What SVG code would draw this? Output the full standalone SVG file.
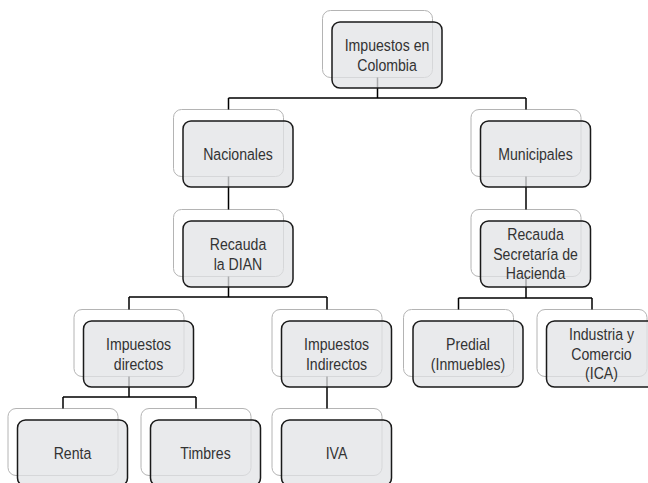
<svg xmlns="http://www.w3.org/2000/svg" width="648" height="483" viewBox="0 0 648 483">
<style>
.bk{fill:#ffffff;stroke:#b4b4b4;stroke-width:1}
.fr{fill:#e2e3e5;fill-opacity:0.75;stroke:#1a1a1a;stroke-width:1.5}
.t{font-family:"Liberation Sans",Arial,sans-serif;font-size:17px;fill:#333333;text-anchor:middle}
.c{fill:none;stroke:#000000;stroke-width:1.5}
</style>
<defs>
<rect id="b" class="bk" width="110" height="67" rx="8"/>
</defs>
<rect width="648" height="483" fill="#ffffff"/>
<g id="backs">
<use href="#b" x="322.5" y="10.5"/>
<use href="#b" x="173.5" y="109.5"/>
<use href="#b" x="471" y="109.5"/>
<use href="#b" x="173.5" y="209.5"/>
<use href="#b" x="471" y="209.5"/>
<use href="#b" x="74" y="309.5"/>
<use href="#b" x="272" y="309.5"/>
<use href="#b" x="403.5" y="309.5"/>
<use href="#b" x="537" y="309.5"/>
<use href="#b" x="8" y="408.5"/>
<use href="#b" x="141" y="408.5"/>
<use href="#b" x="272" y="408.5"/>
</g>
<g id="connectors">
<path class="c" d="M377.5 77.5V98M228.5 98H526M228.5 98V109.5M526 98V109.5"/>
<path class="c" d="M228.5 176.5V209.5"/>
<path class="c" d="M526 176.5V209.5"/>
<path class="c" d="M228.5 276.5V297M129 297H327M129 297V309.5M327 297V309.5"/>
<path class="c" d="M526 276.5V298M458.5 298H592M458.5 298V309.5M592 298V309.5"/>
<path class="c" d="M129 376.5V397M63 397H196M63 397V408.5M196 397V408.5"/>
<path class="c" d="M327 376.5V408.5"/>
</g>
<g id="n-colombia">
<rect class="fr" x="332" y="22" width="110" height="66" rx="8"/>
<g transform="matrix(0.83 0 0 1 387 0)"><text class="t" x="0" y="51.25">Impuestos en</text><text class="t" x="0" y="70.75">Colombia</text></g>
</g>
<g id="n-nacionales">
<rect class="fr" x="183" y="121" width="110" height="66" rx="8"/>
<g transform="matrix(0.83 0 0 1 238 0)"><text class="t" x="0" y="160">Nacionales</text></g>
</g>
<g id="n-municipales">
<rect class="fr" x="480.5" y="121" width="110" height="66" rx="8"/>
<g transform="matrix(0.83 0 0 1 535.5 0)"><text class="t" x="0" y="160">Municipales</text></g>
</g>
<g id="n-dian">
<rect class="fr" x="183" y="221" width="110" height="66" rx="8"/>
<g transform="matrix(0.83 0 0 1 238 0)"><text class="t" x="0" y="250.25">Recauda</text><text class="t" x="0" y="269.75">la DIAN</text></g>
</g>
<g id="n-secretaria">
<rect class="fr" x="480.5" y="221" width="110" height="66" rx="8"/>
<g transform="matrix(0.83 0 0 1 535.5 0)"><text class="t" x="0" y="240.5">Recauda</text><text class="t" x="0" y="260">Secretaría de</text><text class="t" x="0" y="279.5">Hacienda</text></g>
</g>
<g id="n-directos">
<rect class="fr" x="83.5" y="321" width="110" height="66" rx="8"/>
<g transform="matrix(0.83 0 0 1 138.5 0)"><text class="t" x="0" y="350.25">Impuestos</text><text class="t" x="0" y="369.75">directos</text></g>
</g>
<g id="n-indirectos">
<rect class="fr" x="281.5" y="321" width="110" height="66" rx="8"/>
<g transform="matrix(0.83 0 0 1 336.5 0)"><text class="t" x="0" y="350.25">Impuestos</text><text class="t" x="0" y="369.75">Indirectos</text></g>
</g>
<g id="n-predial">
<rect class="fr" x="413" y="321" width="110" height="66" rx="8"/>
<g transform="matrix(0.83 0 0 1 468 0)"><text class="t" x="0" y="350.25">Predial</text><text class="t" x="0" y="369.75">(Inmuebles)</text></g>
</g>
<g id="n-ica">
<rect class="fr" x="546.5" y="321" width="110" height="66" rx="8"/>
<g transform="matrix(0.83 0 0 1 601.5 0)"><text class="t" x="0" y="340.5">Industria y</text><text class="t" x="0" y="360">Comercio</text><text class="t" x="0" y="379.5">(ICA)</text></g>
</g>
<g id="n-renta">
<rect class="fr" x="17.5" y="420" width="110" height="66" rx="8"/>
<g transform="matrix(0.83 0 0 1 72.5 0)"><text class="t" x="0" y="459">Renta</text></g>
</g>
<g id="n-timbres">
<rect class="fr" x="150.5" y="420" width="110" height="66" rx="8"/>
<g transform="matrix(0.83 0 0 1 205.5 0)"><text class="t" x="0" y="459">Timbres</text></g>
</g>
<g id="n-iva">
<rect class="fr" x="281.5" y="420" width="110" height="66" rx="8"/>
<g transform="matrix(0.83 0 0 1 336.5 0)"><text class="t" x="0" y="459">IVA</text></g>
</g>
</svg>
